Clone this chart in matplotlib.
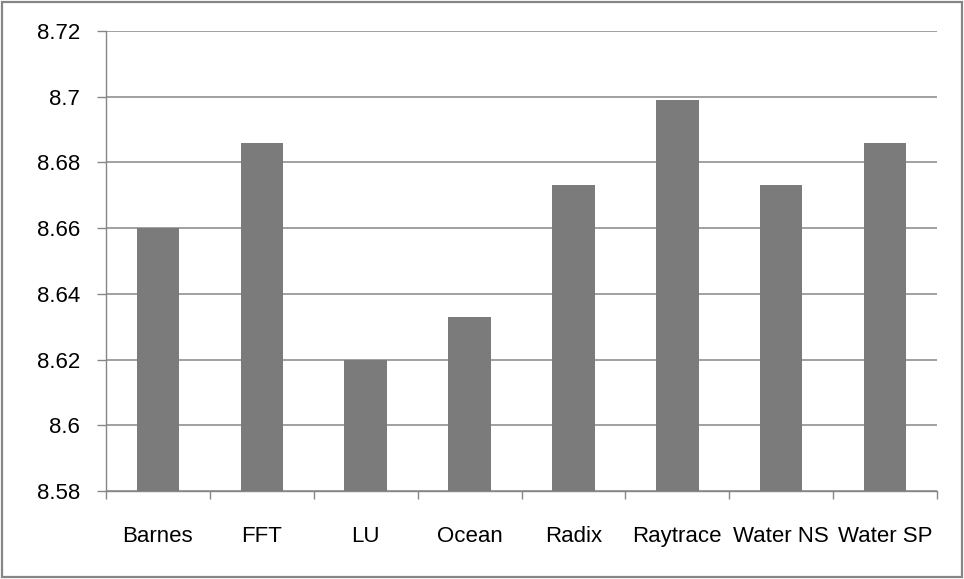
import matplotlib
matplotlib.use('Agg')
import matplotlib.pyplot as plt
from matplotlib.patches import Rectangle
import numpy as np

# Data
benchmarks = ['Barnes', 'FFT', 'LU', 'Ocean', 'Radix', 'Raytrace', 'Water NS', 'Water SP']
values = [8.660, 8.686, 8.620, 8.633, 8.673, 8.699, 8.673, 8.686]
y_ticks = [8.58, 8.60, 8.62, 8.64, 8.66, 8.68, 8.70, 8.72]
y_labels = ['8.58', '8.6', '8.62', '8.64', '8.66', '8.68', '8.7', '8.72']

plt.rcParams['font.family'] = ['Liberation Sans', 'DejaVu Sans']

grid_col = '#868686'
bar_col = '#7b7b7b'

fig = plt.figure(figsize=(9.64, 5.79), dpi=100)
ax = fig.add_axes([106 / 964, 1 - 491 / 579, 831 / 964, 460 / 579])

x = np.arange(len(benchmarks))
ax.bar(x, values, width=0.41, color=bar_col, zorder=3)

ax.set_ylim(8.58, 8.72)
ax.set_xlim(-0.5, len(benchmarks) - 0.5)

ax.set_yticks(y_ticks)
ax.set_yticklabels(y_labels)
ax.yaxis.grid(True, color=grid_col, lw=1.1, zorder=0)
ax.tick_params(axis='y', length=6.5, width=1.0, color=grid_col, pad=12, labelsize=16)

# category labels at centers, tick marks at boundaries
ax.set_xticks(x)
ax.set_xticklabels(benchmarks, va='baseline')
ax.set_xticks(np.arange(-0.5, len(benchmarks)), minor=True)
ax.tick_params(axis='x', which='major', length=0, pad=36.5, labelsize=16)
ax.tick_params(axis='x', which='minor', length=6, width=1.0, color=grid_col)

for side in ['top', 'right']:
    ax.spines[side].set_visible(False)
for side in ['left', 'bottom']:
    ax.spines[side].set_color(grid_col)
    ax.spines[side].set_linewidth(1.0)

# outer chart border
fig.patches.append(Rectangle((0.002, 0.003), 0.996, 0.994, transform=fig.transFigure,
                             fill=False, edgecolor=grid_col, lw=1.6))

fig.savefig('out.png', dpi=100, facecolor='white')
